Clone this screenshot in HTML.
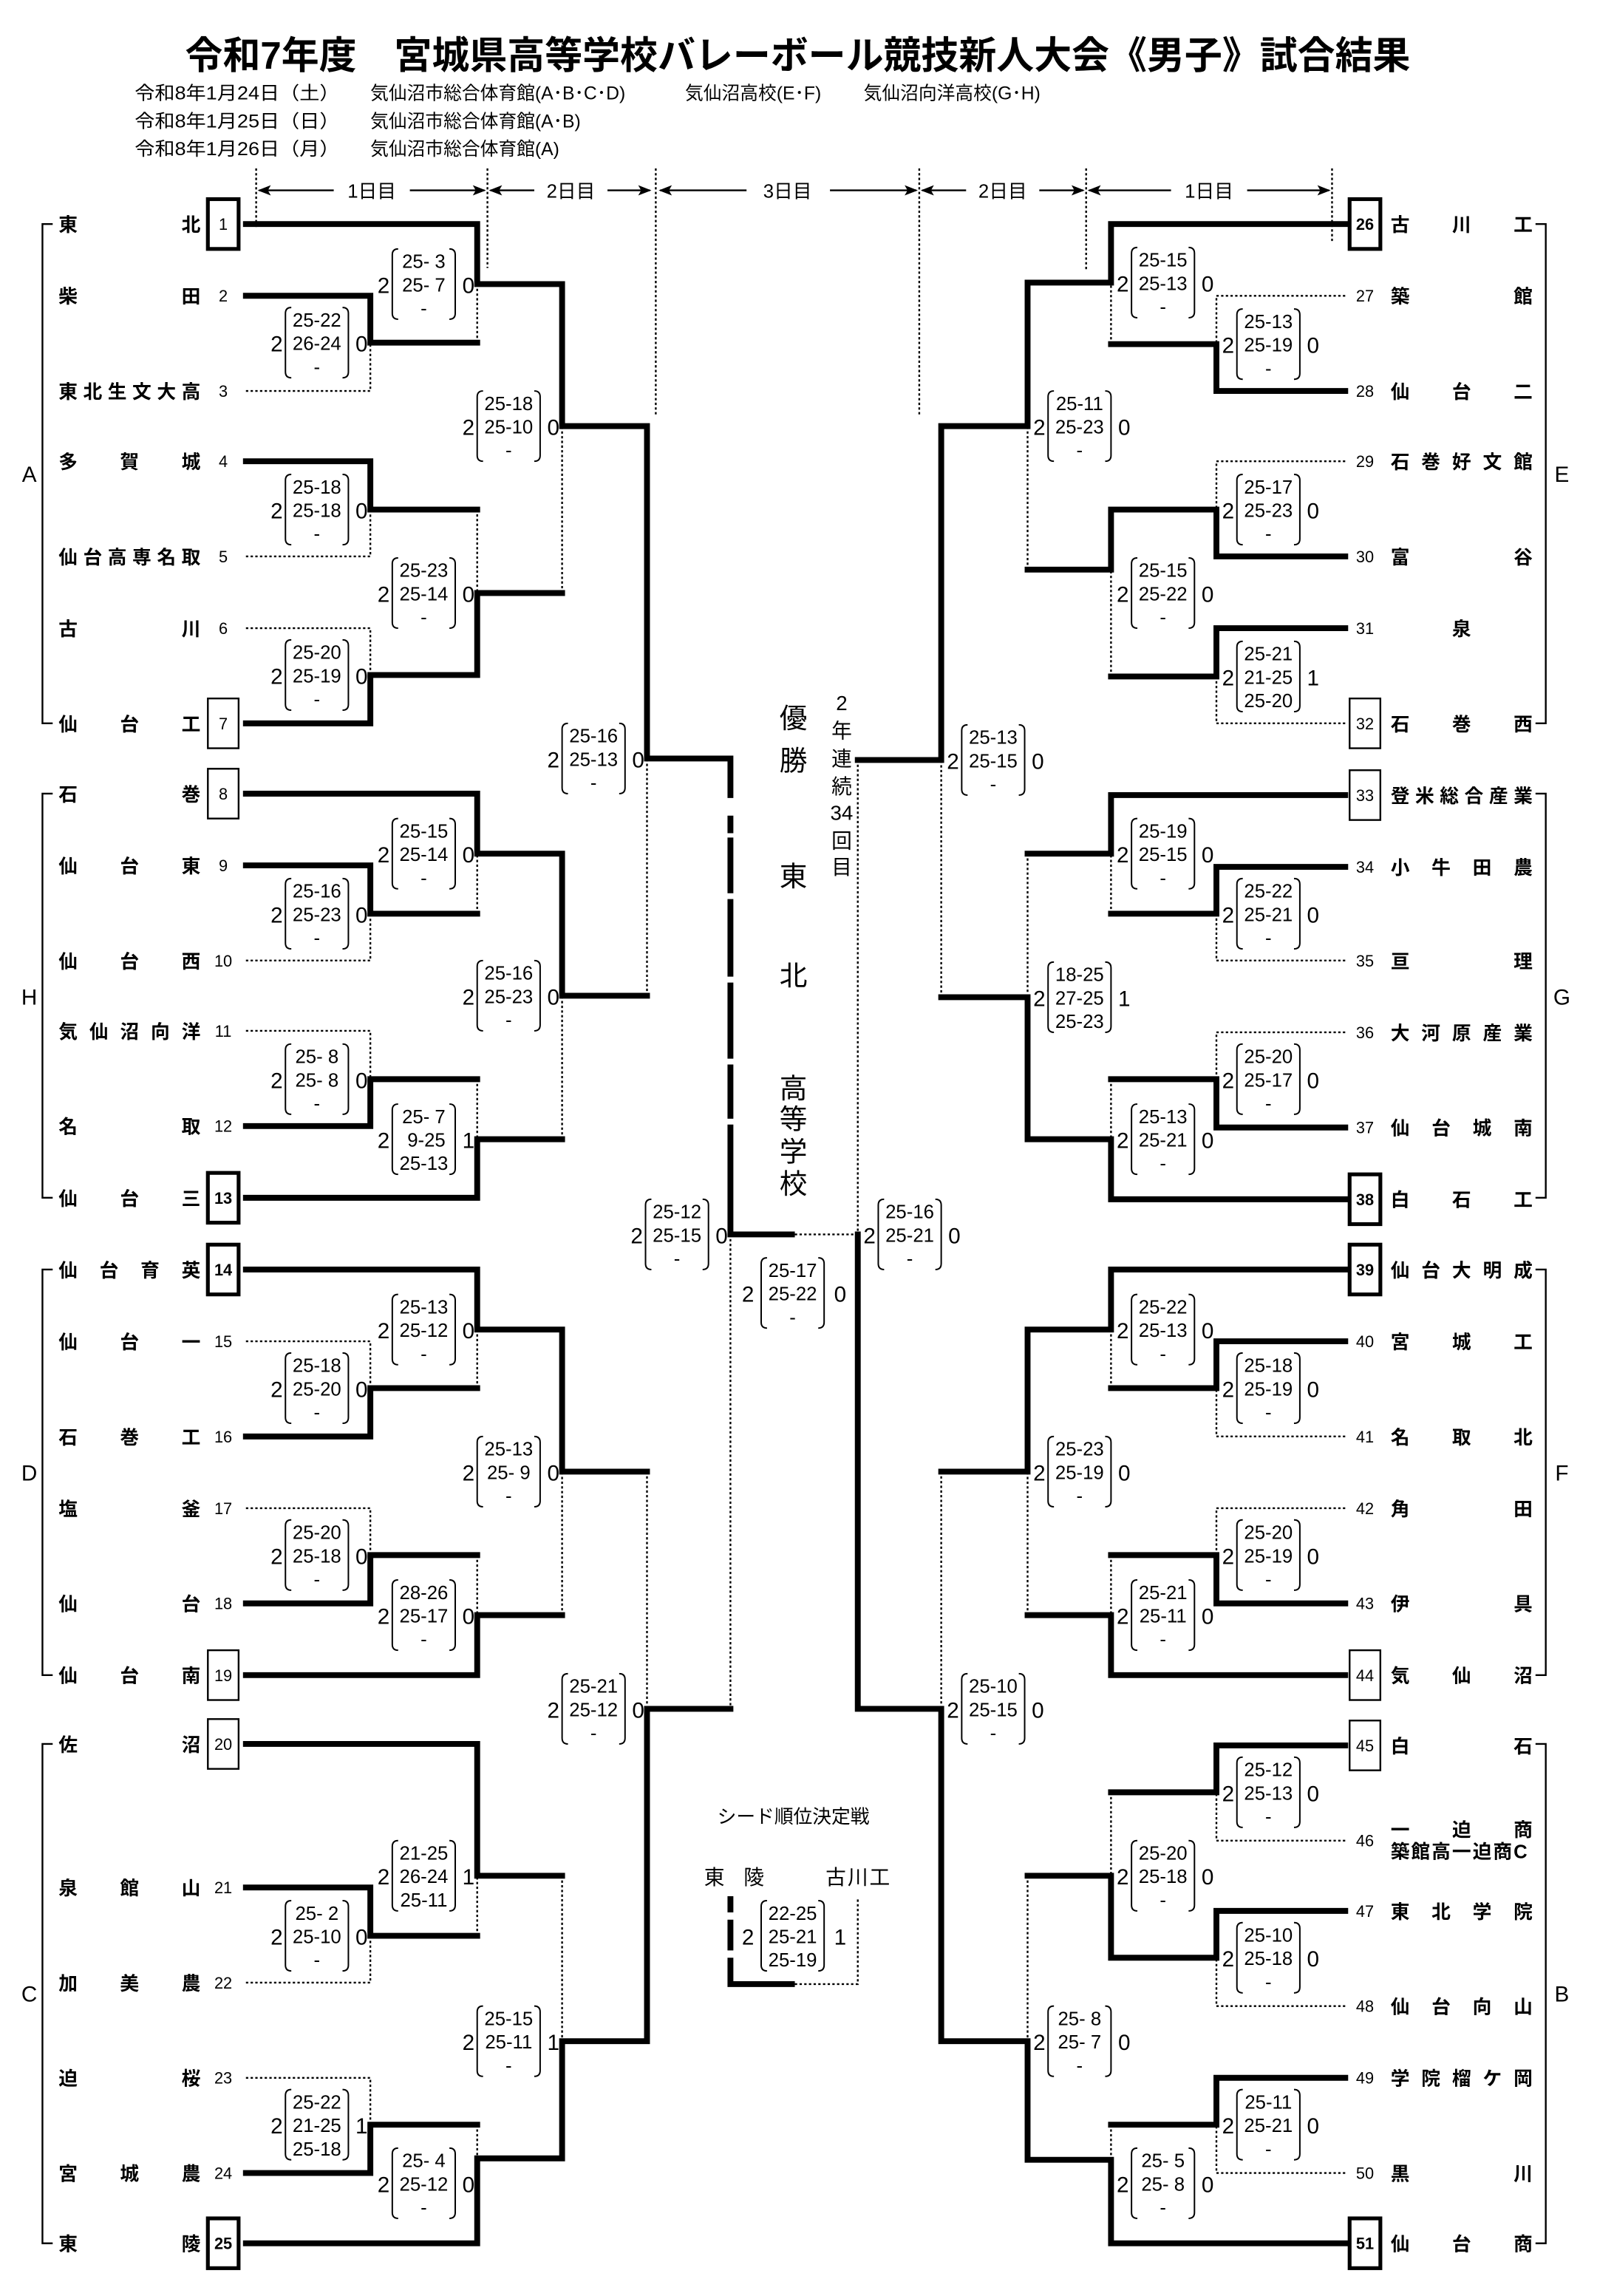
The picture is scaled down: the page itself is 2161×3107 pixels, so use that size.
<!DOCTYPE html>
<html><head><meta charset="utf-8">
<style>
html,body{margin:0;padding:0;background:#fff;}
svg{display:block;}
text{font-family:"Liberation Sans","Noto Sans CJK JP",sans-serif;fill:#000;}
.n{font-size:13px;font-weight:bold;}
.num{font-size:11px;text-anchor:middle;}
.numb{font-size:11px;text-anchor:middle;font-weight:bold;}
.s text{font-size:13px;text-anchor:middle;white-space:pre;}
.s text.w{font-size:15px;}
.b{stroke:#000;stroke-width:4;fill:none;stroke-linecap:square;stroke-linejoin:miter;}
.d{stroke:#000;stroke-width:1.2;stroke-dasharray:1.6 1.6;fill:none;}
.t{stroke:#000;stroke-width:1.2;fill:none;}
.bx{fill:#fff;stroke:#000;stroke-width:1.2;}
.bxb{fill:#fff;stroke:#000;stroke-width:2.6;}
.g{font-size:15px;text-anchor:middle;}
.day{font-size:13px;text-anchor:middle;}
.v{font-size:19px;text-anchor:middle;}
.v2{font-size:14px;text-anchor:middle;}
</style></head>
<body>
<svg width="2161" height="3107" viewBox="0 0 1091 1568" preserveAspectRatio="none" xmlns="http://www.w3.org/2000/svg" xmlns:xlink="http://www.w3.org/1999/xlink">
<defs>
<path id="p" d="M4,-24 Q0,-24 0,-20 V20 Q0,24 4,24 M39,-24 Q43,-24 43,-20 V20 Q43,24 39,24" fill="none" stroke="#000" stroke-width="1"/>
</defs>
<rect width="1091" height="1568" fill="#fff"/>

<text x="545" y="47" font-size="26" font-weight="bold" text-anchor="middle" textLength="837" lengthAdjust="spacingAndGlyphs">令和7年度　宮城県高等学校バレーボール競技新人大会《男子》試合結果</text>
<g font-size="12.5">
<text x="92" y="68" textLength="140" lengthAdjust="spacingAndGlyphs">令和8年1月24日（土）</text>
<text x="253" y="68">気仙沼市総合体育館(A･B･C･D)</text>
<text x="468" y="68">気仙沼高校(E･F)</text>
<text x="590" y="68">気仙沼向洋高校(G･H)</text>
<text x="92" y="87" textLength="140" lengthAdjust="spacingAndGlyphs">令和8年1月25日（日）</text>
<text x="253" y="87">気仙沼市総合体育館(A･B)</text>
<text x="92" y="106" textLength="140" lengthAdjust="spacingAndGlyphs">令和8年1月26日（月）</text>
<text x="253" y="106">気仙沼市総合体育館(A)</text>
</g>

<path class="d" d="M175,115V156 M333,115V183 M448,115V283 M628,115V283 M742,115V184 M910,115V165"/>
<g class="t">
<path d="M177,130H228 M280,130H331 M335,130H365 M415,130H444 M451,130H510 M567,130H626 M630,130H660 M710,130H740 M744,130H800 M852,130H908"/>
</g>
<g fill="#000">
<polygon points="176,130 185,126.5 183,130 185,133.5"/>
<polygon points="332,130 323,126.5 325,130 323,133.5"/>
<polygon points="334,130 343,126.5 341,130 343,133.5"/>
<polygon points="445,130 436,126.5 438,130 436,133.5"/>
<polygon points="450,130 459,126.5 457,130 459,133.5"/>
<polygon points="627,130 618,126.5 620,130 618,133.5"/>
<polygon points="629,130 638,126.5 636,130 638,133.5"/>
<polygon points="741,130 732,126.5 734,130 732,133.5"/>
<polygon points="743,130 752,126.5 750,130 752,133.5"/>
<polygon points="909,130 900,126.5 902,130 900,133.5"/>
</g>
<text class="day" x="254" y="135">1日目</text>
<text class="day" x="390" y="135">2日目</text>
<text class="day" x="538" y="135">3日目</text>
<text class="day" x="685" y="135">2日目</text>
<text class="day" x="826" y="135">1日目</text>

<path class="t" d="M36,153H29V494H36 M36,542H29V818H36 M36,867H29V1144H36 M36,1191H29V1532H36 M1049,153H1056V494H1049 M1049,542H1056V818H1049 M1049,867H1056V1144H1049 M1049,1191H1056V1532H1049"/>
<text class="g" x="20" y="329">A</text>
<text class="g" x="20" y="686">H</text>
<text class="g" x="20" y="1011">D</text>
<text class="g" x="20" y="1367">C</text>
<text class="g" x="1067" y="329">E</text>
<text class="g" x="1067" y="686">G</text>
<text class="g" x="1067" y="1011">F</text>
<text class="g" x="1067" y="1367">B</text>

<g class="n">
<text x="40 124" y="158">東北</text>
<text x="40 124" y="207">柴田</text>
<text x="40 56.8 73.6 90.4 107.2 124" y="272">東北生文大高</text>
<text x="40 82 124" y="320">多賀城</text>
<text x="40 56.8 73.6 90.4 107.2 124" y="385">仙台高専名取</text>
<text x="40 124" y="434">古川</text>
<text x="40 82 124" y="499">仙台工</text>
<text x="40 124" y="547">石巻</text>
<text x="40 82 124" y="596">仙台東</text>
<text x="40 82 124" y="661">仙台西</text>
<text x="40 61 82 103 124" y="709">気仙沼向洋</text>
<text x="40 124" y="774">名取</text>
<text x="40 82 124" y="823">仙台三</text>
<text x="40 68 96 124" y="872">仙台育英</text>
<text x="40 82 124" y="921">仙台一</text>
<text x="40 82 124" y="986">石巻工</text>
<text x="40 124" y="1035">塩釜</text>
<text x="40 124" y="1100">仙台</text>
<text x="40 82 124" y="1149">仙台南</text>
<text x="40 124" y="1196">佐沼</text>
<text x="40 82 124" y="1294">泉館山</text>
<text x="40 82 124" y="1359">加美農</text>
<text x="40 124" y="1424">迫桜</text>
<text x="40 82 124" y="1489">宮城農</text>
<text x="40 124" y="1537">東陵</text>
</g>
<rect class="bxb" x="142" y="136" width="21" height="34"/>
<rect class="bx" x="142" y="477" width="21" height="34"/>
<rect class="bx" x="142" y="525" width="21" height="34"/>
<rect class="bxb" x="142" y="801" width="21" height="34"/>
<rect class="bxb" x="142" y="850" width="21" height="34"/>
<rect class="bx" x="142" y="1127" width="21" height="34"/>
<rect class="bx" x="142" y="1174" width="21" height="34"/>
<rect class="bxb" x="142" y="1515" width="21" height="34"/>
<text class="num" x="152.5" y="157">1</text>
<text class="num" x="152.5" y="206">2</text>
<text class="num" x="152.5" y="271">3</text>
<text class="num" x="152.5" y="319">4</text>
<text class="num" x="152.5" y="384">5</text>
<text class="num" x="152.5" y="433">6</text>
<text class="num" x="152.5" y="498">7</text>
<text class="num" x="152.5" y="546">8</text>
<text class="num" x="152.5" y="595">9</text>
<text class="num" x="152.5" y="660">10</text>
<text class="num" x="152.5" y="708">11</text>
<text class="num" x="152.5" y="773">12</text>
<text class="numb" x="152.5" y="822">13</text>
<text class="numb" x="152.5" y="871">14</text>
<text class="num" x="152.5" y="920">15</text>
<text class="num" x="152.5" y="985">16</text>
<text class="num" x="152.5" y="1034">17</text>
<text class="num" x="152.5" y="1099">18</text>
<text class="num" x="152.5" y="1148">19</text>
<text class="num" x="152.5" y="1195">20</text>
<text class="num" x="152.5" y="1293">21</text>
<text class="num" x="152.5" y="1358">22</text>
<text class="num" x="152.5" y="1423">23</text>
<text class="num" x="152.5" y="1488">24</text>
<text class="numb" x="152.5" y="1536">25</text>

<g class="n">
<text x="950 992 1034" y="158">古川工</text>
<text x="950 1034" y="207">築館</text>
<text x="950 992 1034" y="272">仙台二</text>
<text x="950 971 992 1013 1034" y="320">石巻好文館</text>
<text x="950 1034" y="385">富谷</text>
<text x="992" y="434">泉</text>
<text x="950 992 1034" y="499">石巻西</text>
<text x="950 966.8 983.6 1000.4 1017.2 1034" y="548">登米総合産業</text>
<text x="950 978 1006 1034" y="597">小牛田農</text>
<text x="950 1034" y="661">亘理</text>
<text x="950 971 992 1013 1034" y="710">大河原産業</text>
<text x="950 978 1006 1034" y="775">仙台城南</text>
<text x="950 992 1034" y="824">白石工</text>
<text x="950 971 992 1013 1034" y="872">仙台大明成</text>
<text x="950 992 1034" y="921">宮城工</text>
<text x="950 992 1034" y="986">名取北</text>
<text x="950 1034" y="1035">角田</text>
<text x="950 1034" y="1100">伊具</text>
<text x="950 992 1034" y="1149">気仙沼</text>
<text x="950 1034" y="1197">白石</text>
<text x="950 992 1034" y="1254">一迫商</text>
<text x="950 964 978 992 1006 1020 1034" y="1269">築館高一迫商C</text>
<text x="950 978 1006 1034" y="1310">東北学院</text>
<text x="950 978 1006 1034" y="1375">仙台向山</text>
<text x="950 971 992 1013 1034" y="1424">学院榴ケ岡</text>
<text x="950 1034" y="1489">黒川</text>
<text x="950 992 1034" y="1537">仙台商</text>
</g>
<rect class="bxb" x="922" y="136" width="21" height="34"/>
<rect class="bx" x="922" y="477" width="21" height="34"/>
<rect class="bx" x="922" y="526" width="21" height="34"/>
<rect class="bxb" x="922" y="802" width="21" height="34"/>
<rect class="bxb" x="922" y="850" width="21" height="34"/>
<rect class="bx" x="922" y="1127" width="21" height="34"/>
<rect class="bx" x="922" y="1175" width="21" height="34"/>
<rect class="bxb" x="922" y="1515" width="21" height="34"/>
<text class="numb" x="932.5" y="157">26</text>
<text class="num" x="932.5" y="206">27</text>
<text class="num" x="932.5" y="271">28</text>
<text class="num" x="932.5" y="319">29</text>
<text class="num" x="932.5" y="384">30</text>
<text class="num" x="932.5" y="433">31</text>
<text class="num" x="932.5" y="498">32</text>
<text class="num" x="932.5" y="547">33</text>
<text class="num" x="932.5" y="596">34</text>
<text class="num" x="932.5" y="660">35</text>
<text class="num" x="932.5" y="709">36</text>
<text class="num" x="932.5" y="774">37</text>
<text class="numb" x="932.5" y="823">38</text>
<text class="numb" x="932.5" y="871">39</text>
<text class="num" x="932.5" y="920">40</text>
<text class="num" x="932.5" y="985">41</text>
<text class="num" x="932.5" y="1034">42</text>
<text class="num" x="932.5" y="1099">43</text>
<text class="num" x="932.5" y="1148">44</text>
<text class="num" x="932.5" y="1196">45</text>
<text class="num" x="932.5" y="1261">46</text>
<text class="num" x="932.5" y="1309">47</text>
<text class="num" x="932.5" y="1374">48</text>
<text class="num" x="932.5" y="1423">49</text>
<text class="num" x="932.5" y="1488">50</text>
<text class="numb" x="932.5" y="1536">51</text>

<path class="b" d="
M168,153H326V194H384V291H442V518H499
M168,202H253V234H326
M168,315H253V348H326
M168,494H253V461H326V405H384
M168,542H326V583H384V680H442
M168,591H253V624H326
M168,769H253V737H326
M168,818H326V778H384
M168,867H326V908H384V1005H442
M168,981H253V948H326
M168,1095H253V1062H326
M168,1144H326V1103H384
M168,1191H326V1281H384
M168,1289H253V1322H326
M168,1484H253V1451H326
M168,1532H326V1474H384V1394H442V1167H499
M499,843H541
M499,518V543 M499,559V567 M499,574V608 M499,616V665 M499,673V721 M499,729V762 M499,770V843
M919,153H759V193H702V291H643V519H586
M919,267H831V235H759
M919,380H831V348H759V389H702
M919,429H831V462H759
M919,543H759V583H702
M919,592H831V624H759
M919,770H831V737H759
M919,819H759V778H702V681H643
M919,867H759V908H702V1005H643
M919,916H831V948H759
M919,1095H831V1062H759
M919,1144H759V1103H702
M919,1192H831V1224H759
M919,1305H831V1337H759V1281H702
M919,1419H831V1451H759
M919,1532H759V1475H702V1394H643V1167H586V843
M499,1297V1304 M499,1313V1330 M499,1339V1355H541
"/>
<path class="d" d="
M168,267H253V234 M326,234V194
M168,380H253V348 M168,429H253V461 M326,348V405 M384,405V291
M168,656H253V624 M326,624V583 M168,704H253V737 M326,737V778 M384,778V680 M442,680V518
M168,916H253V948 M326,948V908 M168,1030H253V1062 M326,1062V1103 M384,1103V1005 M442,1005V1167
M168,1354H253V1322 M326,1322V1281 M168,1419H253V1451 M326,1451V1474 M384,1281V1394
M499,843V1167 M543,843H586
M919,202H831V235 M759,235V193
M919,315H831V348 M919,494H831V462 M759,462V389 M702,389V291
M919,656H831V624 M759,624V583 M919,705H831V737 M759,737V778 M702,583V681 M643,681V519
M919,981H831V948 M759,948V908 M919,1030H831V1062 M759,1062V1103 M702,1103V1005 M643,1005V1167
M919,1257H831V1224 M759,1224V1281 M919,1370H831V1337 M919,1484H831V1451 M759,1451V1475 M702,1281V1394
M586,519V843
M543,1355H586V1297
"/>

<g class="s">
<g transform="translate(195,234)"><use xlink:href="#p"/><text class="w" x="-6" y="6">2</text><text x="21.5" y="-11">25-22</text><text x="21.5" y="5">26-24</text><text x="21.5" y="21">-</text><text class="w" x="52" y="6">0</text></g>
<g transform="translate(195,348)"><use xlink:href="#p"/><text class="w" x="-6" y="6">2</text><text x="21.5" y="-11">25-18</text><text x="21.5" y="5">25-18</text><text x="21.5" y="21">-</text><text class="w" x="52" y="6">0</text></g>
<g transform="translate(195,461)"><use xlink:href="#p"/><text class="w" x="-6" y="6">2</text><text x="21.5" y="-11">25-20</text><text x="21.5" y="5">25-19</text><text x="21.5" y="21">-</text><text class="w" x="52" y="6">0</text></g>
<g transform="translate(268,194)"><use xlink:href="#p"/><text class="w" x="-6" y="6">2</text><text x="21.5" y="-11">25- 3</text><text x="21.5" y="5">25- 7</text><text x="21.5" y="21">-</text><text class="w" x="52" y="6">0</text></g>
<g transform="translate(268,405)"><use xlink:href="#p"/><text class="w" x="-6" y="6">2</text><text x="21.5" y="-11">25-23</text><text x="21.5" y="5">25-14</text><text x="21.5" y="21">-</text><text class="w" x="52" y="6">0</text></g>
<g transform="translate(326,291)"><use xlink:href="#p"/><text class="w" x="-6" y="6">2</text><text x="21.5" y="-11">25-18</text><text x="21.5" y="5">25-10</text><text x="21.5" y="21">-</text><text class="w" x="52" y="6">0</text></g>

<g transform="translate(195,624)"><use xlink:href="#p"/><text class="w" x="-6" y="6">2</text><text x="21.5" y="-11">25-16</text><text x="21.5" y="5">25-23</text><text x="21.5" y="21">-</text><text class="w" x="52" y="6">0</text></g>
<g transform="translate(195,737)"><use xlink:href="#p"/><text class="w" x="-6" y="6">2</text><text x="21.5" y="-11">25- 8</text><text x="21.5" y="5">25- 8</text><text x="21.5" y="21">-</text><text class="w" x="52" y="6">0</text></g>
<g transform="translate(268,583)"><use xlink:href="#p"/><text class="w" x="-6" y="6">2</text><text x="21.5" y="-11">25-15</text><text x="21.5" y="5">25-14</text><text x="21.5" y="21">-</text><text class="w" x="52" y="6">0</text></g>
<g transform="translate(268,778)"><use xlink:href="#p"/><text class="w" x="-6" y="6">2</text><text x="21.5" y="-11">25- 7</text><text x="21.5" y="5"> 9-25</text><text x="21.5" y="21">25-13</text><text class="w" x="52" y="6">1</text></g>
<g transform="translate(326,680)"><use xlink:href="#p"/><text class="w" x="-6" y="6">2</text><text x="21.5" y="-11">25-16</text><text x="21.5" y="5">25-23</text><text x="21.5" y="21">-</text><text class="w" x="52" y="6">0</text></g>
<g transform="translate(384,518)"><use xlink:href="#p"/><text class="w" x="-6" y="6">2</text><text x="21.5" y="-11">25-16</text><text x="21.5" y="5">25-13</text><text x="21.5" y="21">-</text><text class="w" x="52" y="6">0</text></g>

<g transform="translate(195,948)"><use xlink:href="#p"/><text class="w" x="-6" y="6">2</text><text x="21.5" y="-11">25-18</text><text x="21.5" y="5">25-20</text><text x="21.5" y="21">-</text><text class="w" x="52" y="6">0</text></g>
<g transform="translate(195,1062)"><use xlink:href="#p"/><text class="w" x="-6" y="6">2</text><text x="21.5" y="-11">25-20</text><text x="21.5" y="5">25-18</text><text x="21.5" y="21">-</text><text class="w" x="52" y="6">0</text></g>
<g transform="translate(268,908)"><use xlink:href="#p"/><text class="w" x="-6" y="6">2</text><text x="21.5" y="-11">25-13</text><text x="21.5" y="5">25-12</text><text x="21.5" y="21">-</text><text class="w" x="52" y="6">0</text></g>
<g transform="translate(268,1103)"><use xlink:href="#p"/><text class="w" x="-6" y="6">2</text><text x="21.5" y="-11">28-26</text><text x="21.5" y="5">25-17</text><text x="21.5" y="21">-</text><text class="w" x="52" y="6">0</text></g>
<g transform="translate(326,1005)"><use xlink:href="#p"/><text class="w" x="-6" y="6">2</text><text x="21.5" y="-11">25-13</text><text x="21.5" y="5">25- 9</text><text x="21.5" y="21">-</text><text class="w" x="52" y="6">0</text></g>

<g transform="translate(195,1322)"><use xlink:href="#p"/><text class="w" x="-6" y="6">2</text><text x="21.5" y="-11">25- 2</text><text x="21.5" y="5">25-10</text><text x="21.5" y="21">-</text><text class="w" x="52" y="6">0</text></g>
<g transform="translate(268,1281)"><use xlink:href="#p"/><text class="w" x="-6" y="6">2</text><text x="21.5" y="-11">21-25</text><text x="21.5" y="5">26-24</text><text x="21.5" y="21">25-11</text><text class="w" x="52" y="6">1</text></g>
<g transform="translate(195,1451)"><use xlink:href="#p"/><text class="w" x="-6" y="6">2</text><text x="21.5" y="-11">25-22</text><text x="21.5" y="5">21-25</text><text x="21.5" y="21">25-18</text><text class="w" x="52" y="6">1</text></g>
<g transform="translate(268,1491)"><use xlink:href="#p"/><text class="w" x="-6" y="6">2</text><text x="21.5" y="-11">25- 4</text><text x="21.5" y="5">25-12</text><text x="21.5" y="21">-</text><text class="w" x="52" y="6">0</text></g>
<g transform="translate(326,1394)"><use xlink:href="#p"/><text class="w" x="-6" y="6">2</text><text x="21.5" y="-11">25-15</text><text x="21.5" y="5">25-11</text><text x="21.5" y="21">-</text><text class="w" x="52" y="6">1</text></g>
<g transform="translate(384,1167)"><use xlink:href="#p"/><text class="w" x="-6" y="6">2</text><text x="21.5" y="-11">25-21</text><text x="21.5" y="5">25-12</text><text x="21.5" y="21">-</text><text class="w" x="52" y="6">0</text></g>

<g transform="translate(441,843)"><use xlink:href="#p"/><text class="w" x="-6" y="6">2</text><text x="21.5" y="-11">25-12</text><text x="21.5" y="5">25-15</text><text x="21.5" y="21">-</text><text class="w" x="52" y="6">0</text></g>
<g transform="translate(520,883)"><use xlink:href="#p"/><text class="w" x="-9" y="6">2</text><text x="21.5" y="-11">25-17</text><text x="21.5" y="5">25-22</text><text x="21.5" y="21">-</text><text class="w" x="54" y="6">0</text></g>
<g transform="translate(600,843)"><use xlink:href="#p"/><text class="w" x="-6" y="6">2</text><text x="21.5" y="-11">25-16</text><text x="21.5" y="5">25-21</text><text x="21.5" y="21">-</text><text class="w" x="52" y="6">0</text></g>
<g transform="translate(520,1322)"><use xlink:href="#p"/><text class="w" x="-9" y="6">2</text><text x="21.5" y="-11">22-25</text><text x="21.5" y="5">25-21</text><text x="21.5" y="21">25-19</text><text class="w" x="54" y="6">1</text></g>

<g transform="translate(845,235)"><use xlink:href="#p"/><text class="w" x="-6" y="6">2</text><text x="21.5" y="-11">25-13</text><text x="21.5" y="5">25-19</text><text x="21.5" y="21">-</text><text class="w" x="52" y="6">0</text></g>
<g transform="translate(773,193)"><use xlink:href="#p"/><text class="w" x="-6" y="6">2</text><text x="21.5" y="-11">25-15</text><text x="21.5" y="5">25-13</text><text x="21.5" y="21">-</text><text class="w" x="52" y="6">0</text></g>
<g transform="translate(845,348)"><use xlink:href="#p"/><text class="w" x="-6" y="6">2</text><text x="21.5" y="-11">25-17</text><text x="21.5" y="5">25-23</text><text x="21.5" y="21">-</text><text class="w" x="52" y="6">0</text></g>
<g transform="translate(845,462)"><use xlink:href="#p"/><text class="w" x="-6" y="6">2</text><text x="21.5" y="-11">25-21</text><text x="21.5" y="5">21-25</text><text x="21.5" y="21">25-20</text><text class="w" x="52" y="6">1</text></g>
<g transform="translate(773,405)"><use xlink:href="#p"/><text class="w" x="-6" y="6">2</text><text x="21.5" y="-11">25-15</text><text x="21.5" y="5">25-22</text><text x="21.5" y="21">-</text><text class="w" x="52" y="6">0</text></g>
<g transform="translate(716,291)"><use xlink:href="#p"/><text class="w" x="-6" y="6">2</text><text x="21.5" y="-11">25-11</text><text x="21.5" y="5">25-23</text><text x="21.5" y="21">-</text><text class="w" x="52" y="6">0</text></g>
<g transform="translate(657,519)"><use xlink:href="#p"/><text class="w" x="-6" y="6">2</text><text x="21.5" y="-11">25-13</text><text x="21.5" y="5">25-15</text><text x="21.5" y="21">-</text><text class="w" x="52" y="6">0</text></g>

<g transform="translate(845,624)"><use xlink:href="#p"/><text class="w" x="-6" y="6">2</text><text x="21.5" y="-11">25-22</text><text x="21.5" y="5">25-21</text><text x="21.5" y="21">-</text><text class="w" x="52" y="6">0</text></g>
<g transform="translate(773,583)"><use xlink:href="#p"/><text class="w" x="-6" y="6">2</text><text x="21.5" y="-11">25-19</text><text x="21.5" y="5">25-15</text><text x="21.5" y="21">-</text><text class="w" x="52" y="6">0</text></g>
<g transform="translate(845,737)"><use xlink:href="#p"/><text class="w" x="-6" y="6">2</text><text x="21.5" y="-11">25-20</text><text x="21.5" y="5">25-17</text><text x="21.5" y="21">-</text><text class="w" x="52" y="6">0</text></g>
<g transform="translate(773,778)"><use xlink:href="#p"/><text class="w" x="-6" y="6">2</text><text x="21.5" y="-11">25-13</text><text x="21.5" y="5">25-21</text><text x="21.5" y="21">-</text><text class="w" x="52" y="6">0</text></g>
<g transform="translate(716,681)"><use xlink:href="#p"/><text class="w" x="-6" y="6">2</text><text x="21.5" y="-11">18-25</text><text x="21.5" y="5">27-25</text><text x="21.5" y="21">25-23</text><text class="w" x="52" y="6">1</text></g>

<g transform="translate(845,948)"><use xlink:href="#p"/><text class="w" x="-6" y="6">2</text><text x="21.5" y="-11">25-18</text><text x="21.5" y="5">25-19</text><text x="21.5" y="21">-</text><text class="w" x="52" y="6">0</text></g>
<g transform="translate(773,908)"><use xlink:href="#p"/><text class="w" x="-6" y="6">2</text><text x="21.5" y="-11">25-22</text><text x="21.5" y="5">25-13</text><text x="21.5" y="21">-</text><text class="w" x="52" y="6">0</text></g>
<g transform="translate(845,1062)"><use xlink:href="#p"/><text class="w" x="-6" y="6">2</text><text x="21.5" y="-11">25-20</text><text x="21.5" y="5">25-19</text><text x="21.5" y="21">-</text><text class="w" x="52" y="6">0</text></g>
<g transform="translate(773,1103)"><use xlink:href="#p"/><text class="w" x="-6" y="6">2</text><text x="21.5" y="-11">25-21</text><text x="21.5" y="5">25-11</text><text x="21.5" y="21">-</text><text class="w" x="52" y="6">0</text></g>
<g transform="translate(716,1005)"><use xlink:href="#p"/><text class="w" x="-6" y="6">2</text><text x="21.5" y="-11">25-23</text><text x="21.5" y="5">25-19</text><text x="21.5" y="21">-</text><text class="w" x="52" y="6">0</text></g>
<g transform="translate(657,1167)"><use xlink:href="#p"/><text class="w" x="-6" y="6">2</text><text x="21.5" y="-11">25-10</text><text x="21.5" y="5">25-15</text><text x="21.5" y="21">-</text><text class="w" x="52" y="6">0</text></g>

<g transform="translate(845,1224)"><use xlink:href="#p"/><text class="w" x="-6" y="6">2</text><text x="21.5" y="-11">25-12</text><text x="21.5" y="5">25-13</text><text x="21.5" y="21">-</text><text class="w" x="52" y="6">0</text></g>
<g transform="translate(845,1337)"><use xlink:href="#p"/><text class="w" x="-6" y="6">2</text><text x="21.5" y="-11">25-10</text><text x="21.5" y="5">25-18</text><text x="21.5" y="21">-</text><text class="w" x="52" y="6">0</text></g>
<g transform="translate(773,1281)"><use xlink:href="#p"/><text class="w" x="-6" y="6">2</text><text x="21.5" y="-11">25-20</text><text x="21.5" y="5">25-18</text><text x="21.5" y="21">-</text><text class="w" x="52" y="6">0</text></g>
<g transform="translate(845,1451)"><use xlink:href="#p"/><text class="w" x="-6" y="6">2</text><text x="21.5" y="-11">25-11</text><text x="21.5" y="5">25-21</text><text x="21.5" y="21">-</text><text class="w" x="52" y="6">0</text></g>
<g transform="translate(773,1491)"><use xlink:href="#p"/><text class="w" x="-6" y="6">2</text><text x="21.5" y="-11">25- 5</text><text x="21.5" y="5">25- 8</text><text x="21.5" y="21">-</text><text class="w" x="52" y="6">0</text></g>
<g transform="translate(716,1394)"><use xlink:href="#p"/><text class="w" x="-6" y="6">2</text><text x="21.5" y="-11">25- 8</text><text x="21.5" y="5">25- 7</text><text x="21.5" y="21">-</text><text class="w" x="52" y="6">0</text></g>
</g>

<text class="v" x="542" y="497">優</text>
<text class="v" x="542" y="526">勝</text>
<text class="v" x="542" y="605">東</text>
<text class="v" x="542" y="673">北</text>
<text class="v" x="542" y="750">高</text>
<text class="v" x="542" y="771">等</text>
<text class="v" x="542" y="793">学</text>
<text class="v" x="542" y="815">校</text>
<text class="v2" x="575" y="485">2</text>
<text class="v2" x="575" y="504">年</text>
<text class="v2" x="575" y="523">連</text>
<text class="v2" x="575" y="542">続</text>
<text class="v2" x="575" y="560">34</text>
<text class="v2" x="575" y="579">回</text>
<text class="v2" x="575" y="597">目</text>

<text x="542" y="1245" font-size="13" text-anchor="middle">シード順位決定戦</text>
<text x="481 508" y="1287" font-size="14">東陵</text>
<text x="564 579 594" y="1287" font-size="14">古川工</text>
</svg>
</body></html>
